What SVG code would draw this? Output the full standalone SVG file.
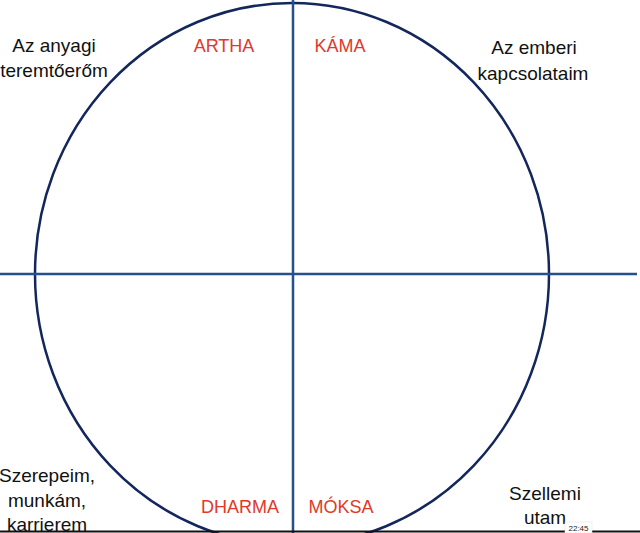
<svg xmlns="http://www.w3.org/2000/svg" width="640" height="533" viewBox="0 0 640 533">
<style>
.t{font-family:"Liberation Sans",Arial,sans-serif;font-size:19px;fill:#111;text-anchor:middle}
.r{font-family:"Liberation Sans",Arial,sans-serif;font-size:18px;fill:#e0392b;text-anchor:middle}
.ax{stroke:#27508a;stroke-width:2.5;fill:none}
</style>
<rect width="640" height="533" fill="#fff"/>
<g id="connectors">
<ellipse id="circle" cx="292" cy="274" rx="257" ry="271" fill="none" stroke="#13275c" stroke-width="2.5"/>
<line class="ax" x1="0" y1="274" x2="637" y2="274"/>
<line class="ax" x1="293" y1="0" x2="293" y2="533"/>
</g>
<g id="artha"><text class="r" x="224" y="52">ARTHA</text></g>
<g id="kama"><text class="r" x="340" y="52">KÁMA</text></g>
<g id="dharma"><text class="r" x="240" y="513">DHARMA</text></g>
<g id="moksa"><text class="r" x="341" y="513">MÓKSA</text></g>
<g id="anyagi"><text class="t" x="54" y="52">Az anyagi</text><text class="t" x="54" y="77">teremtőerőm</text></g>
<g id="emberi"><text class="t" x="534" y="54">Az emberi</text><text class="t" x="533" y="80">kapcsolataim</text></g>
<g id="szerepeim"><text class="t" x="47" y="482">Szerepeim,</text><text class="t" x="47" y="507">munkám,</text><text class="t" x="47" y="531">karrierem</text></g>
<g id="szellemi"><text class="t" x="545" y="500">Szellemi</text><text class="t" x="545" y="524">utam</text></g>
<g id="bar">
<line x1="0" y1="531.5" x2="640" y2="531.5" stroke="#111" stroke-width="2"/>
<rect x="565" y="522" width="27" height="11" fill="#fff" stroke="#ddd" stroke-width="0.5"/>
<text x="578.5" y="530.5" font-family="Liberation Sans,Arial,sans-serif" font-size="8" fill="#222" text-anchor="middle">22:45</text>
</g>
</svg>
